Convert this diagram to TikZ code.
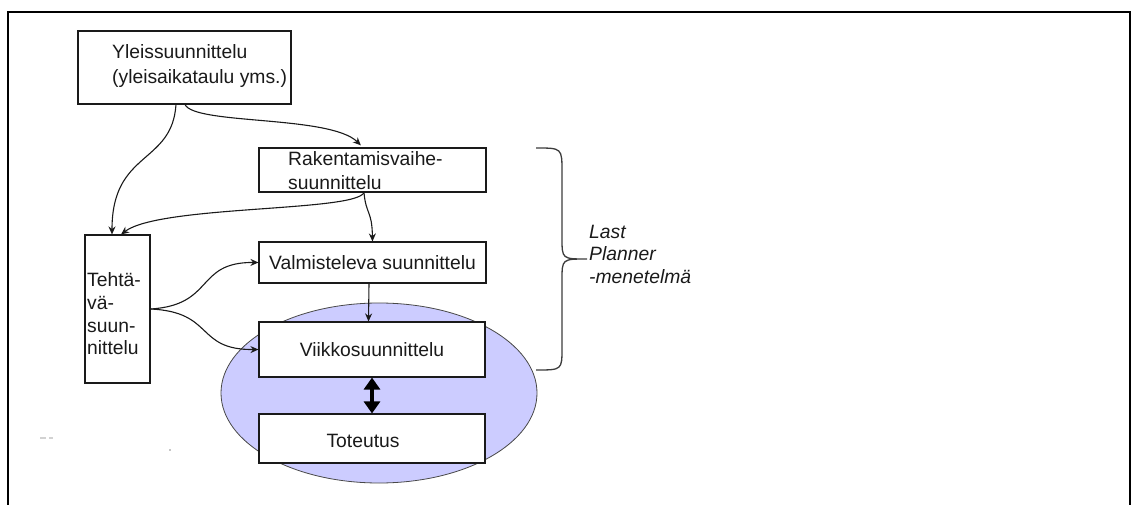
\documentclass[tikz,border=0pt]{standalone}
\usepackage{fontspec}
\setmainfont{Liberation Sans}
\usetikzlibrary{arrows.meta,shapes.geometric}
\definecolor{lpblue}{HTML}{CCCCFF}
\definecolor{ink}{HTML}{1A1A1A}
\begin{document}
\begin{tikzpicture}[x=1pt,y=-1pt,
  box/.style={draw=ink, line width=1.1pt, fill=white, inner sep=0pt,
              font=\fontsize{19.3}{23.5}\selectfont, text=ink},
  txt/.style={font=\fontsize{19.3}{23.5}\selectfont, text=ink, inner sep=0pt, align=left},
  flow/.style={draw=ink, line width=1.1pt, -{Stealth[length=8pt,width=7pt]}},
  twoway/.style={line width=3.4pt, {Triangle[length=12pt,width=16pt]}-{Triangle[length=12pt,width=16pt]}},
]
\useasboundingbox (0,0) rectangle (1132,505);

% page frame, open at the bottom
\draw[line width=1.8pt] (8,505) -- (8,12) -- (1130,12) -- (1130,505);

% Last Planner area
\node[ellipse, draw=ink!80, line width=0.8pt, fill=lpblue, inner sep=0pt,
      minimum width=316pt, minimum height=180pt] (ell) at (379,393) {};

% planning levels
\node[box, minimum width=213pt, minimum height=73pt] (yb) at (184.5,67.5) {};
\node[txt, anchor=west, font=\fontsize{19.3}{25}\selectfont] (ybt) at (112,66)
  {Yleissuunnittelu\\(yleisaikataulu yms.)};

\node[box, minimum width=227pt, minimum height=44pt] (rb) at (372.5,170) {};
\node[txt, anchor=west] (rbt) at (288,170.5) {Rakentamisvaihe-\\suunnittelu};

\node[box, minimum width=65pt, minimum height=148pt] (tb) at (117.5,309) {};
\node[txt, anchor=west, font=\fontsize{19.3}{22.7}\selectfont] (tbt) at (87,314)
  {Tehtä-\\vä-\\suun-\\nittelu};

\node[box, minimum width=227pt, minimum height=41pt] (vb) at (372.5,262.5) {Valmisteleva suunnittelu};
\node[box, minimum width=226pt, minimum height=55pt] (wb) at (372,349.5) {Viikkosuunnittelu};
\node[box, minimum width=226pt, minimum height=49pt] (ob) at (372,438.5) {};
\node[txt] (obt) at (363,441) {Toteutus};

% connectors
\draw[flow, shorten >=3pt] ([xshift=0.5pt]yb.south) .. controls (195,125) and (330,115) .. ([xshift=-9.5pt]rb.north);
\draw[flow] ([xshift=-8.5pt]yb.south) .. controls (172,165) and (112,150) .. ([xshift=-5.5pt]tb.north);
\draw[flow] ([xshift=-8.5pt]rb.south) .. controls (355,212) and (160,205) .. ([xshift=3.5pt]tb.north);
\draw[flow] ([xshift=-8.5pt]rb.south) .. controls (366,215) and (372,210) .. (vb.north);
\draw[flow] ([xshift=-3.5pt]vb.south) -- ([xshift=-3.5pt]wb.north);
\draw[flow] (tb.east) .. controls (215,305) and (195,262) .. (vb.west);
\draw[flow] (tb.east) .. controls (215,312) and (195,350) .. (wb.west);
\draw[twoway] (wb.south) -- (ob.north);

% brace grouping the Last Planner levels
\coordinate (bt) at (536,148);
\coordinate (bb) at (536,370);
\coordinate (btip) at (587,259);
\draw[draw=ink!85, line width=1.3pt]
  (bt) .. controls (562,148) .. (562,172) -- (562,238)
  .. controls (562,259) .. (btip)
  .. controls (562,259) .. (562,280) -- (562,348)
  .. controls (562,370) .. (bb);
\node[txt, anchor=west, font=\fontsize{19.3}{22.5}\selectfont\itshape] (lp) at (589,254)
  {Last\\Planner\\-menetelmä};

% faint specks near the lower left corner
\fill[gray!35] (40,437) rectangle (46,438.5);
\fill[gray!35] (49,437) rectangle (53,438.5);
\fill[gray!45] (169,449) rectangle (171,451);
\end{tikzpicture}
\end{document}
